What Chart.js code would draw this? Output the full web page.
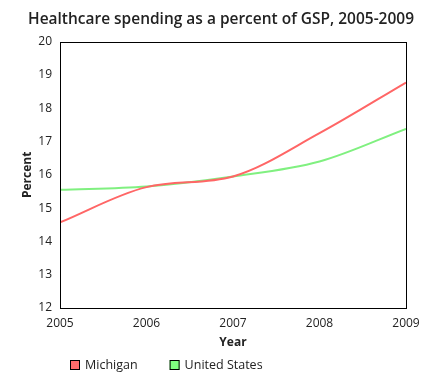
<!DOCTYPE html>
<html>
<head>
<meta charset="utf-8">
<script src="https://cdn.jsdelivr.net/npm/chart.js@4"></script>
<style>
html,body{margin:0;padding:0;background:#fff;}
#wrap{width:439px;height:390px;position:relative;}
</style>
</head>
<body>
<div id="wrap"><canvas id="c" width="439" height="390"></canvas></div>
<script>
const years = [2005, 2006, 2007, 2008, 2009];
const michigan = [14.57, 15.63, 15.95, 17.25, 18.77];
const unitedStates = [15.55, 15.65, 15.95, 16.4, 17.38];
const yTicks = [12, 13, 14, 15, 16, 17, 18, 19, 20];
const seriesNames = ['Michigan', 'United States'];

const FONT = "'Open Sans', 'Noto Sans', sans-serif";

const framePlugin = {
  id: 'frame',
  afterDatasetsDraw(chart) {
    const a = chart.chartArea, ctx = chart.ctx;
    ctx.save();
    ctx.strokeStyle = '#000';
    ctx.lineWidth = 1;
    ctx.strokeRect(Math.round(a.left) + 0.5, Math.round(a.top) + 0.5, Math.round(a.right - a.left), Math.round(a.bottom - a.top));
    ctx.restore();
  }
};

const legendPlugin = {
  id: 'customLegend',
  afterDraw(chart) {
    const ctx = chart.ctx;
    ctx.save();
    ctx.font = '12.5px ' + FONT;
    ctx.textBaseline = 'middle';
    let x = 70;
    const yc = 365;
    chart.data.datasets.forEach((d) => {
      ctx.fillStyle = d.backgroundColor;
      ctx.fillRect(x, yc - 5, 10, 10);
      ctx.strokeStyle = '#000';
      ctx.lineWidth = 1;
      ctx.strokeRect(x + 0.5, yc - 5 + 0.5, 9, 9);
      ctx.fillStyle = '#222';
      ctx.fillText(d.label, x + 15, yc);
      x += 15 + ctx.measureText(d.label).width + 32;
    });
    ctx.restore();
  }
};

new Chart(document.getElementById('c'), {
  type: 'line',
  data: {
    datasets: [
      { label: seriesNames[0], data: years.map((x, i) => ({x, y: michigan[i]})),
        borderColor: '#ff6666', backgroundColor: '#ff6b6b', borderWidth: 2, pointRadius: 0, cubicInterpolationMode: 'monotone', fill: false },
      { label: seriesNames[1], data: years.map((x, i) => ({x, y: unitedStates[i]})),
        borderColor: '#80f080', backgroundColor: '#80ff80', borderWidth: 2, pointRadius: 0, cubicInterpolationMode: 'monotone', fill: false }
    ]
  },
  options: {
    responsive: false,
    animation: false,
    layout: { padding: { left: 28, right: 25, top: 4, bottom: 40 } },
    plugins: {
      title: { display: true, fullSize: true, text: 'Healthcare spending as a percent of GSP, 2005-2009',
        color: '#222', font: { family: FONT, size: 15.5, weight: '600' }, padding: { top: 6, bottom: 13 } },
      legend: { display: false },
      tooltip: { enabled: false }
    },
    scales: {
      x: { type: 'linear', min: 2005, max: 2009,
        grid: { display: false }, border: { display: false },
        ticks: { stepSize: 1, color: '#222', font: { family: FONT, size: 12 }, padding: 0, callback: v => String(v) },
        title: { display: true, text: 'Year', color: '#222', font: { family: FONT, size: 12, weight: 'bold' }, padding: { top: 9, bottom: 0 } },
        afterFit(s) { s.height = 42; }
      },
      y: { min: 12, max: 20,
        grid: { display: false }, border: { display: false },
        afterBuildTicks(s) { s.ticks = yTicks.map(v => ({ value: v })); },
        ticks: { color: '#222', font: { family: FONT, size: 12 }, padding: 0 },
        title: { display: true, text: 'Percent', color: '#222', font: { family: FONT, size: 12, weight: 'bold' }, padding: { top: -8, bottom: 0 } },
        afterFit(s) { s.width = 32; }
      },
      yRight: { position: 'right', min: 12, max: 20, display: true,
        grid: { display: false }, border: { display: false },
        ticks: { display: false },
        afterFit(s) { s.width = 8; }
      }
    }
  },
  plugins: [framePlugin, legendPlugin]
});
</script>
</body>
</html>
